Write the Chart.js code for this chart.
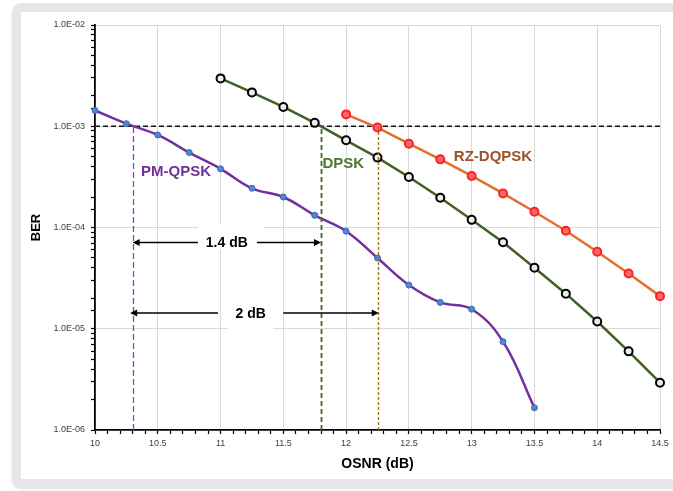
<!DOCTYPE html>
<html>
<head>
<meta charset="utf-8">
<script src="https://cdn.jsdelivr.net/npm/chart.js@4.4.1/dist/chart.umd.min.js"></script>
<style>
  body { margin: 0; background: #fff; width: 673px; height: 491px; overflow: hidden; position: relative; }
  .frame { position: absolute; left: 12px; top: 3px; width: 720px; height: 484px; background: #e6e6e6; border-radius: 9px; box-shadow: 0 2px 3px rgba(0, 0, 0, 0.12); }
  .panel { position: absolute; left: 21px; top: 12px; width: 652px; height: 467px; background: #fff; }
</style>
</head>
<body>
<div class="frame"></div>
<div class="panel"><canvas id="chart"></canvas></div>
<script>
// values
const osnrPM = [10, 10.25, 10.5, 10.75, 11, 11.25, 11.5, 11.75, 12, 12.25, 12.5, 12.75, 13, 13.25, 13.5]
const berPM = [1.43e-3, 1.06e-3, 8.2e-4, 5.5e-4, 3.8e-4, 2.44e-4, 2.0e-4, 1.32e-4, 9.2e-5, 5.0e-5, 2.7e-5, 1.82e-5, 1.56e-5, 7.45e-6, 1.66e-6]

const osnrDPSK = [11, 11.25, 11.5, 11.75, 12, 12.25, 12.5, 12.75, 13, 13.25, 13.5, 13.75, 14, 14.25, 14.5]
const berDPSK = [2.97e-3, 2.16e-3, 1.55e-3, 1.08e-3, 7.26e-4, 4.9e-4, 3.15e-4, 1.97e-4, 1.19e-4, 7.14e-5, 4.0e-5, 2.22e-5, 1.18e-5, 5.98e-6, 2.93e-6]

const osnrRZ = [12, 12.25, 12.5, 12.75, 13, 13.25, 13.5, 13.75, 14, 14.25, 14.5]
const berRZ = [1.31e-3, 9.7e-4, 6.73e-4, 4.71e-4, 3.23e-4, 2.17e-4, 1.43e-4, 9.3e-5, 5.77e-5, 3.52e-5, 2.1e-5]

const berLimit = 1e-3
const limitOsnr = [10.3, 11.8, 12.25]

// penalty arrows
const spanText = ['1.4 dB', '2 dB']
const spanBer = [7.1e-5, 1.43e-5]
const spanFrom = [10.3, 10.28]
const spanTo = [11.8, 12.26]
const spanGapL = [10.82, 10.98]
const spanGapR = [11.29, 11.5]
const spanTextX = [11.05, 11.24]
const boxL = [10.82, 11.06]
const boxR = [11.35, 11.42]
const boxTop = [1.06e-4, 2.1e-5]
const boxBottom = [6.0e-5, 9.1e-6]

const seriesText = ['PM-QPSK', 'DPSK', 'RZ-DQPSK']
const seriesTextX = [10.645, 11.978, 13.17]
const seriesTextBer = [3.56e-4, 4.3e-4, 5.0e-4]

const FONT = '"Liberation Sans", Arial, sans-serif'
const limitColors = ['#8244c8', '#3f6a2c', '#a0741e']
const limitWidths = [1.3, 1.8, 1.4]
const limitDash = [[6, 3], [5, 3], [3, 2]]
const textColors = ['#7030a0', '#4d7733', '#9e5126']

function pts(xs, ys) {
  return xs.map((v, i) => ({ x: v, y: ys[i] }))
}
function isDecade(v) {
  const l = Math.log10(v)
  return Math.abs(l - Math.round(l)) < 1e-9
}
function isHalf(v) {
  return Math.abs(v * 2 - Math.round(v * 2)) < 1e-6
}

function arrow(ctx, x0, x1, y) {
  const dir = x1 > x0 ? 1 : -1
  ctx.beginPath()
  ctx.moveTo(x0, y)
  ctx.lineTo(x1 - dir * 5, y)
  ctx.stroke()
  ctx.beginPath()
  ctx.moveTo(x1, y)
  ctx.lineTo(x1 - dir * 7, y - 3.5)
  ctx.lineTo(x1 - dir * 7, y + 3.5)
  ctx.closePath()
  ctx.fill()
}

const notes = {
  id: 'notes',
  beforeDatasetsDraw(chart) {
    const { ctx, chartArea: a, scales: { x, y } } = chart
    ctx.save()
    ctx.fillStyle = '#fff'
    for (let i = 0; i < boxL.length; i++) {
      const l = x.getPixelForValue(boxL[i]), r = x.getPixelForValue(boxR[i])
      const t = y.getPixelForValue(boxTop[i]), b = y.getPixelForValue(boxBottom[i])
      ctx.fillRect(l, t, r - l, b - t)
    }
    const yl = y.getPixelForValue(berLimit)
    ctx.strokeStyle = '#111'
    ctx.lineWidth = 1.6
    ctx.setLineDash([5, 3])
    ctx.beginPath()
    ctx.moveTo(a.left, yl)
    ctx.lineTo(a.right + 2, yl)
    ctx.stroke()
    ctx.restore()
  },
  afterDatasetsDraw(chart) {
    const { ctx, chartArea: a, scales: { x, y } } = chart
    const yl = y.getPixelForValue(berLimit)
    ctx.save()
    for (let i = 0; i < limitOsnr.length; i++) {
      const px = Math.round(x.getPixelForValue(limitOsnr[i])) + 0.5
      ctx.strokeStyle = limitColors[i]
      ctx.lineWidth = limitWidths[i]
      ctx.setLineDash(limitDash[i])
      ctx.beginPath()
      ctx.moveTo(px, a.bottom)
      ctx.lineTo(px, yl)
      ctx.stroke()
    }
    ctx.setLineDash([])
    ctx.strokeStyle = '#000'
    ctx.fillStyle = '#000'
    ctx.lineWidth = 1.6
    ctx.textAlign = 'center'
    ctx.textBaseline = 'middle'
    ctx.font = 'bold 14px ' + FONT
    for (let i = 0; i < spanText.length; i++) {
      const py = y.getPixelForValue(spanBer[i])
      arrow(ctx, x.getPixelForValue(spanGapL[i]), x.getPixelForValue(spanFrom[i]), py)
      arrow(ctx, x.getPixelForValue(spanGapR[i]), x.getPixelForValue(spanTo[i]), py)
      ctx.fillText(spanText[i], x.getPixelForValue(spanTextX[i]), py + 1)
    }
    ctx.font = 'bold 15px ' + FONT
    for (let i = 0; i < seriesText.length; i++) {
      ctx.fillStyle = textColors[i]
      ctx.fillText(seriesText[i], x.getPixelForValue(seriesTextX[i]), y.getPixelForValue(seriesTextBer[i]))
    }
    ctx.restore()
  }
}

new Chart(document.getElementById('chart'), {
  type: 'line',
  data: {
    datasets: [
      {
        label: 'PM-QPSK',
        data: pts(osnrPM, berPM),
        borderColor: '#7030a0',
        borderWidth: 2.5,
        tension: 0.4,
        pointRadius: 3,
        pointBorderWidth: 1,
        pointBackgroundColor: '#4f86d6',
        pointBorderColor: '#3a68b4',
        clip: false,
      },
      {
        label: 'DPSK',
        data: pts(osnrDPSK, berDPSK),
        borderColor: '#406028',
        borderWidth: 2.5,
        tension: 0,
        pointRadius: 4,
        pointBorderWidth: 2,
        pointBackgroundColor: '#ececec',
        pointBorderColor: '#000',
        clip: false,
      },
      {
        label: 'RZ-DQPSK',
        data: pts(osnrRZ, berRZ),
        borderColor: '#e2702c',
        borderWidth: 2.5,
        tension: 0,
        pointRadius: 4,
        pointBorderWidth: 2,
        pointBackgroundColor: '#ff6a6a',
        pointBorderColor: '#ff2020',
        clip: false,
      },
    ],
  },
  options: {
    responsive: true,
    maintainAspectRatio: false,
    animation: false,
    layout: { padding: { left: 0, right: 13, top: 13, bottom: 0 } },
    plugins: {
      legend: { display: false },
      tooltip: { enabled: false },
    },
    scales: {
      x: {
        type: 'linear',
        min: 10,
        max: 14.5,
        afterFit: (s) => { s.height = 49 },
        ticks: {
          stepSize: 0.1,
          autoSkip: false,
          maxRotation: 0,
          padding: 4,
          color: '#404040',
          font: { family: FONT, size: 9 },
          callback: (v) => (isHalf(v) ? String(Math.round(v * 10) / 10) : ''),
        },
        grid: {
          color: (c) => (isHalf(c.tick.value) && c.tick.value > 10.01 ? '#d9d9d9' : 'rgba(0,0,0,0)'),
          tickColor: '#000',
          tickLength: 4,
          tickWidth: 1.2,
        },
        border: { color: '#000', width: 1.8 },
        title: {
          display: true,
          text: 'OSNR (dB)',
          color: '#000',
          font: { family: FONT, size: 14, weight: 'bold' },
          padding: { top: 0, bottom: 6 },
        },
      },
      y: {
        type: 'logarithmic',
        min: 1e-6,
        max: 1e-2,
        afterFit: (s) => { s.width = 74 },
        ticks: {
          autoSkip: false,
          padding: 6,
          color: '#404040',
          font: { family: FONT, size: 9 },
          callback: (v) => {
            if (!isDecade(v)) return ''
            const e = Math.round(Math.log10(v))
            return '1.0E-' + String(-e).padStart(2, '0')
          },
        },
        grid: {
          color: (c) => (isDecade(c.tick.value) && c.tick.value > 1.5e-6 ? '#d9d9d9' : 'rgba(0,0,0,0)'),
          tickColor: '#000',
          tickLength: 4,
          tickWidth: 1.2,
        },
        border: { color: '#000', width: 1.8 },
        title: {
          display: true,
          text: 'BER',
          color: '#000',
          font: { family: FONT, size: 13, weight: 'bold' },
          padding: { top: 8, bottom: 0 },
        },
      },
    },
  },
  plugins: [notes],
})
</script>
</body>
</html>
